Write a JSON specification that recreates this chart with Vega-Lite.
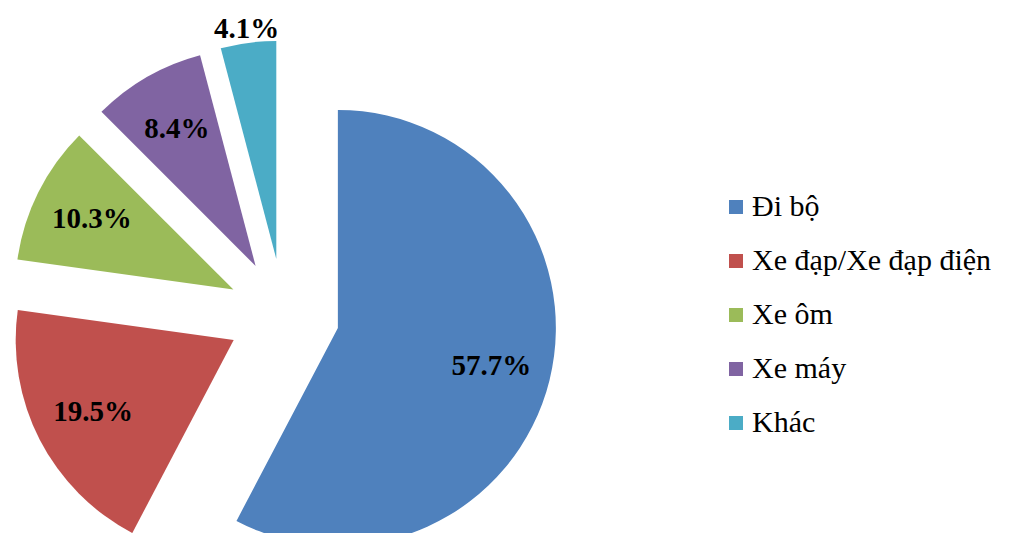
{
  "$schema": "https://vega.github.io/schema/vega-lite/v6.json",
  "width": 567,
  "height": 437,
  "autosize": "none",
  "padding": {"left": 0, "top": 96, "right": 453, "bottom": 0},
  "background": "white",
  "config": {"view": {"stroke": null}},
  "data": {
    "values": [
      {"mode": "Đi bộ", "share": 57.7},
      {"mode": "Xe đạp/Xe đạp điện", "share": 19.5},
      {"mode": "Xe ôm", "share": 10.3},
      {"mode": "Xe máy", "share": 8.4},
      {"mode": "Khác", "share": 4.1}
    ]
  },
  "transform": [
    {"joinaggregate": [{"op": "sum", "field": "share", "as": "total"}]},
    {"window": [{"op": "sum", "field": "share", "as": "cum"}], "frame": [null, 0]},
    {"calculate": "2*PI*(datum.cum - datum.share/2)/datum.total", "as": "mid"},
    {"calculate": "56*sin(datum.mid)", "as": "dx"},
    {"calculate": "-56*cos(datum.mid)", "as": "dy"},
    {"calculate": "datum.share < 5 ? 232 : 158", "as": "lr"},
    {"calculate": "datum.dx + datum.lr*sin(datum.mid)", "as": "lx"},
    {"calculate": "datum.dy - datum.lr*cos(datum.mid)", "as": "ly"},
    {"calculate": "format(datum.share, '.1f') + '%'", "as": "label"}
  ],
  "layer": [
    {
      "mark": {"type": "arc", "radius": 218, "xOffset": {"expr": "datum.dx"}, "yOffset": {"expr": "datum.dy"}},
      "encoding": {
        "theta": {"field": "share", "type": "quantitative", "stack": true},
        "order": {"field": "cum", "type": "quantitative"},
        "color": {
          "field": "mode",
          "type": "nominal",
          "scale": {
            "domain": ["Đi bộ", "Xe đạp/Xe đạp điện", "Xe ôm", "Xe máy", "Khác"],
            "range": ["#4F81BD", "#C0504D", "#9BBB59", "#8064A2", "#4BACC6"]
          },
          "legend": {
            "title": null,
            "orient": "none",
            "legendX": 721,
            "legendY": 96,
            "padding": 0,
            "symbolType": "square",
            "symbolSize": 196,
            "symbolStrokeWidth": 0,
            "labelFont": "Liberation Serif",
            "labelFontSize": 30,
            "labelColor": "black",
            "labelLimit": 400,
            "labelOffset": 1,
            "rowPadding": 24
          }
        }
      }
    },
    {
      "mark": {
        "type": "text",
        "font": "Liberation Serif",
        "fontWeight": "bold",
        "fontSize": 29,
        "color": "black",
        "align": "center",
        "baseline": "middle",
        "xOffset": {"expr": "datum.lx"},
        "yOffset": {"expr": "datum.ly"}
      },
      "encoding": {"text": {"field": "label", "type": "nominal"}}
    }
  ]
}
